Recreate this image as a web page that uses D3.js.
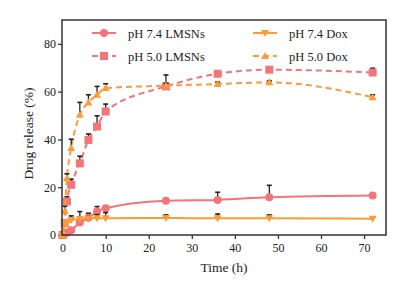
<!DOCTYPE html>
<html>
<head>
<meta charset="utf-8">
<script src="https://cdn.jsdelivr.net/npm/d3@7"></script>
<style>
  body { margin: 0; background: #fff; }
  svg text { font-family: "Liberation Serif", "Times New Roman", Tinos, "Nimbus Roman", Times, serif !important; fill: #222; }
</style>
</head>
<body>
<svg id="chart" width="412" height="283"></svg>
<script>
"use strict";

// sampling times (h)
const time = [0, 0.5, 1, 2, 4, 6, 8, 10, 24, 36, 48, 72];

// cumulative release (%) and upper error
const lmsn74    = [0, 0.5, 1, 2, 5.2, 7.2, 9.8, 11.2, 14.3, 14.7, 15.8, 16.5];
const lmsn74Err = [0, 0, 0, 0.5, 0.8, 1.9, 2.1, 1, 1, 3.2, 5, 0.7];
const lmsn50    = [0, 5, 14, 21, 30, 39.8, 45.4, 51.7, 62.2, 67.5, 69.2, 68];
const lmsn50Err = [0, 1, 2, 2.4, 3, 2.5, 4.5, 3.1, 4.8, 1, 0.5, 1.8];
const dox74     = [0, 4.5, 5, 6.3, 6.7, 7, 7, 7, 7.1, 7, 7, 6.8];
const dox74Err  = [0, 0, 0.5, 1.7, 3.1, 1, 1.5, 2.4, 1.3, 1.8, 1.4, 0.4];
const dox50     = [0, 10, 23.8, 36.4, 50.3, 55.5, 58.7, 61.5, 62.5, 63.2, 63.9, 57.7];
const dox50Err  = [0, 2, 1.8, 3.7, 5.2, 3.2, 3.5, 1.8, 1, 0.8, 0.7, 1];

const xTicks = [0, 10, 20, 30, 40, 50, 60, 70];
const yTicks = [0, 20, 40, 60, 80];

const red = "#f37479", orange = "#fb9b3a";

const series = [
  { name: "pH 7.4 LMSNs", values: lmsn74, err: lmsn74Err, color: red,    dash: null,  symbol: "circle" },
  { name: "pH 5.0 LMSNs", values: lmsn50, err: lmsn50Err, color: red,    dash: "6,4", symbol: "square" },
  { name: "pH 7.4 Dox",   values: dox74,  err: dox74Err,  color: orange, dash: null,  symbol: "down" },
  { name: "pH 5.0 Dox",   values: dox50,  err: dox50Err,  color: orange, dash: "6,4", symbol: "up" }
];

const svg = d3.select("#chart");
const box = { left: 62, right: 386, top: 20, bottom: 235 };

const x = d3.scaleLinear().domain([0, 75]).range([62.6, 385.6]);
const y = d3.scaleLinear().domain([0, 90]).range([box.bottom, box.top]);

// axes
const xAxis = svg.append("g")
  .attr("transform", `translate(0,${box.bottom})`)
  .call(d3.axisBottom(x).tickValues(xTicks).tickSize(4).tickPadding(4).tickFormat(d3.format("d")));
const yAxis = svg.append("g")
  .attr("transform", `translate(${box.left},0)`)
  .call(d3.axisLeft(y).tickValues(yTicks).tickSize(4).tickPadding(2).tickFormat(d3.format("d")));
[xAxis, yAxis].forEach(g => {
  g.select(".domain").remove();
  g.selectAll(".tick line").attr("stroke", "#333").attr("stroke-width", 1.3);
  g.selectAll(".tick text").attr("font-size", 12).attr("fill", "#222");
});

// symbols
function drawMarker(g, sym, cx, cy, color) {
  if (sym === "circle") {
    g.append("circle").attr("cx", cx).attr("cy", cy).attr("r", 4).attr("fill", color);
  } else if (sym === "square") {
    g.append("rect").attr("x", cx - 4).attr("y", cy - 4).attr("width", 8).attr("height", 8).attr("fill", color);
  } else {
    const s = sym === "up" ? -1 : 1;
    g.append("path")
      .attr("d", `M${cx - 4},${cy - s * 3} L${cx + 4},${cy - s * 3} L${cx},${cy + s * 4} Z`)
      .attr("fill", color);
  }
}

const line = d3.line().curve(d3.curveMonotoneX).x(d => x(d[0])).y(d => y(d[1]));

series.forEach(s => {
  const pts = time.map((t, i) => [t, s.values[i], s.err[i]]);
  const g = svg.append("g");
  g.append("path")
    .attr("d", line(pts))
    .attr("fill", "none")
    .attr("stroke", s.color)
    .attr("stroke-width", 2)
    .attr("stroke-dasharray", s.dash);
  // error bars (upper only)
  pts.filter(p => p[2] > 0).forEach(p => {
    const px = x(p[0]), top = y(p[1] + p[2]);
    g.append("line").attr("x1", px).attr("x2", px).attr("y1", y(p[1])).attr("y2", top)
      .attr("stroke", "#222").attr("stroke-width", 1.3);
    g.append("line").attr("x1", px - 2.5).attr("x2", px + 2.5).attr("y1", top).attr("y2", top)
      .attr("stroke", "#222").attr("stroke-width", 1.6);
  });
  pts.forEach(p => drawMarker(g, s.symbol, x(p[0]), y(p[1]), s.color));
});

// frame
svg.append("rect")
  .attr("x", box.left).attr("y", box.top)
  .attr("width", box.right - box.left).attr("height", box.bottom - box.top)
  .attr("fill", "none").attr("stroke", "#333").attr("stroke-width", 1.5);

// legend
const legendPos = [[92, 33], [92, 56], [253, 33], [253, 56]];
series.forEach((s, i) => {
  const [lx, ly] = legendPos[i];
  const g = svg.append("g");
  g.append("line").attr("x1", lx).attr("x2", lx + 24).attr("y1", ly).attr("y2", ly)
    .attr("stroke", s.color).attr("stroke-width", 2).attr("stroke-dasharray", s.dash);
  drawMarker(g, s.symbol, lx + 12, ly, s.color);
  g.append("text").attr("x", lx + 36).attr("y", ly + 4.5)
    .attr("font-size", 12.5).text(s.name);
});

// axis titles
svg.append("text")
  .attr("x", (box.left + box.right) / 2).attr("y", 272)
  .attr("text-anchor", "middle").attr("font-size", 13.5).text("Time (h)");
svg.append("text")
  .attr("transform", `translate(33,${(box.top + box.bottom) / 2 + 6}) rotate(-90)`)
  .attr("text-anchor", "middle").attr("font-size", 13.5).text("Drug release (%)");
</script>
</body>
</html>
